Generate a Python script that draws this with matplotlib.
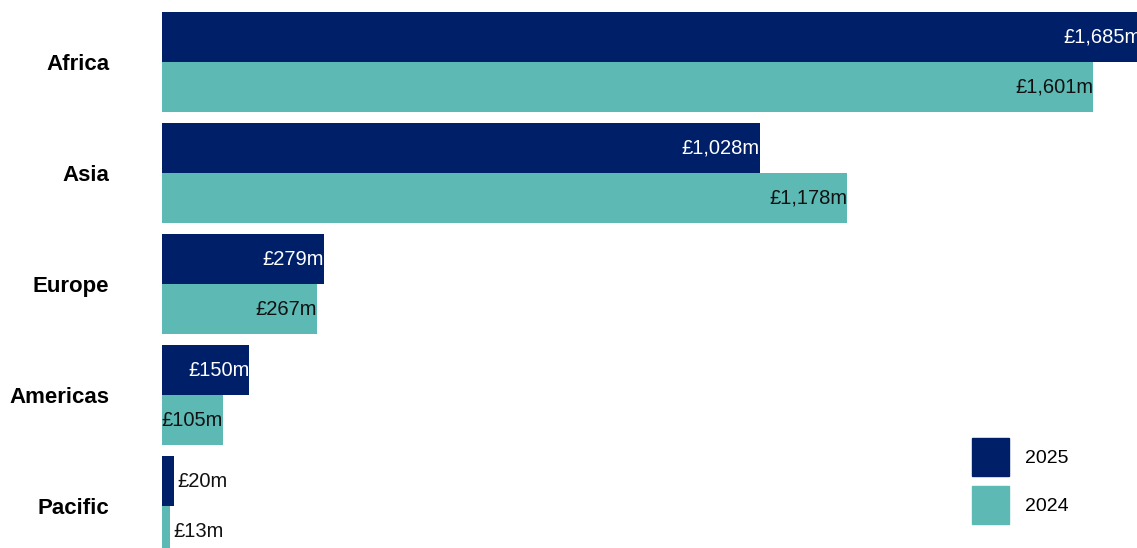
import numpy as np
import matplotlib.pyplot as plt
from matplotlib.patches import Patch

plt.rcParams['font.family'] = ['Liberation Sans', 'DejaVu Sans']

REGIONS = ['Africa', 'Asia', 'Europe', 'Americas', 'Pacific']
VAL_2025 = [1685, 1028, 279, 150, 20]
VAL_2024 = [1601, 1178, 267, 105, 13]
LABEL_2025 = ['£1,685m', '£1,028m', '£279m', '£150m', '£20m']
LABEL_2024 = ['£1,601m', '£1,178m', '£267m', '£105m', '£13m']

NAVY = '#001F69'
TEAL = '#5CB9B4'
BAR_H = 0.45
SMALL = 60  # below this the label goes outside the bar

fig = plt.figure(figsize=(11.37, 5.48), dpi=100)
ax = fig.add_axes([0.1425, -0.045, 0.8695, 1.0533])

y = np.arange(len(REGIONS))
ax.barh(y - BAR_H / 2, VAL_2025, height=BAR_H, color=NAVY, label='2025')
ax.barh(y + BAR_H / 2, VAL_2024, height=BAR_H, color=TEAL, label='2024')

for yi, v, lab in zip(y, VAL_2025, LABEL_2025):
    if v < SMALL:
        ax.text(v + 7, yi - BAR_H / 2, lab, ha='left', va='center', fontsize=14.5, color='#111111')
    else:
        ax.text(v, yi - BAR_H / 2, lab, ha='right', va='center', fontsize=14.5, color='white')
for yi, v, lab in zip(y, VAL_2024, LABEL_2024):
    if v < SMALL:
        ax.text(v + 7, yi + BAR_H / 2, lab, ha='left', va='center', fontsize=14.5, color='#111111')
    else:
        ax.text(v, yi + BAR_H / 2, lab, ha='right', va='center', fontsize=14.5, color='#111111')

ax.set_xlim(0, 1700)
ax.set_ylim(len(REGIONS) - 0.4, -0.6)
ax.set_yticks(y)
ax.set_yticklabels(REGIONS, fontsize=16, fontweight='bold')
ax.tick_params(axis='y', length=0, pad=38)
ax.set_xticks([])
for s in ax.spines.values():
    s.set_visible(False)

handles = [Patch(color=NAVY, label='2025'), Patch(color=TEAL, label='2024')]
fig.legend(handles=handles, loc='upper left', bbox_to_anchor=(972 / 1137, 1 - 438 / 548),
           frameon=False, fontsize=14, borderpad=0, borderaxespad=0,
           handlelength=1.9, handleheight=2.6, labelspacing=0.55, handletextpad=0.8)

fig.savefig('out.png', dpi=100)
